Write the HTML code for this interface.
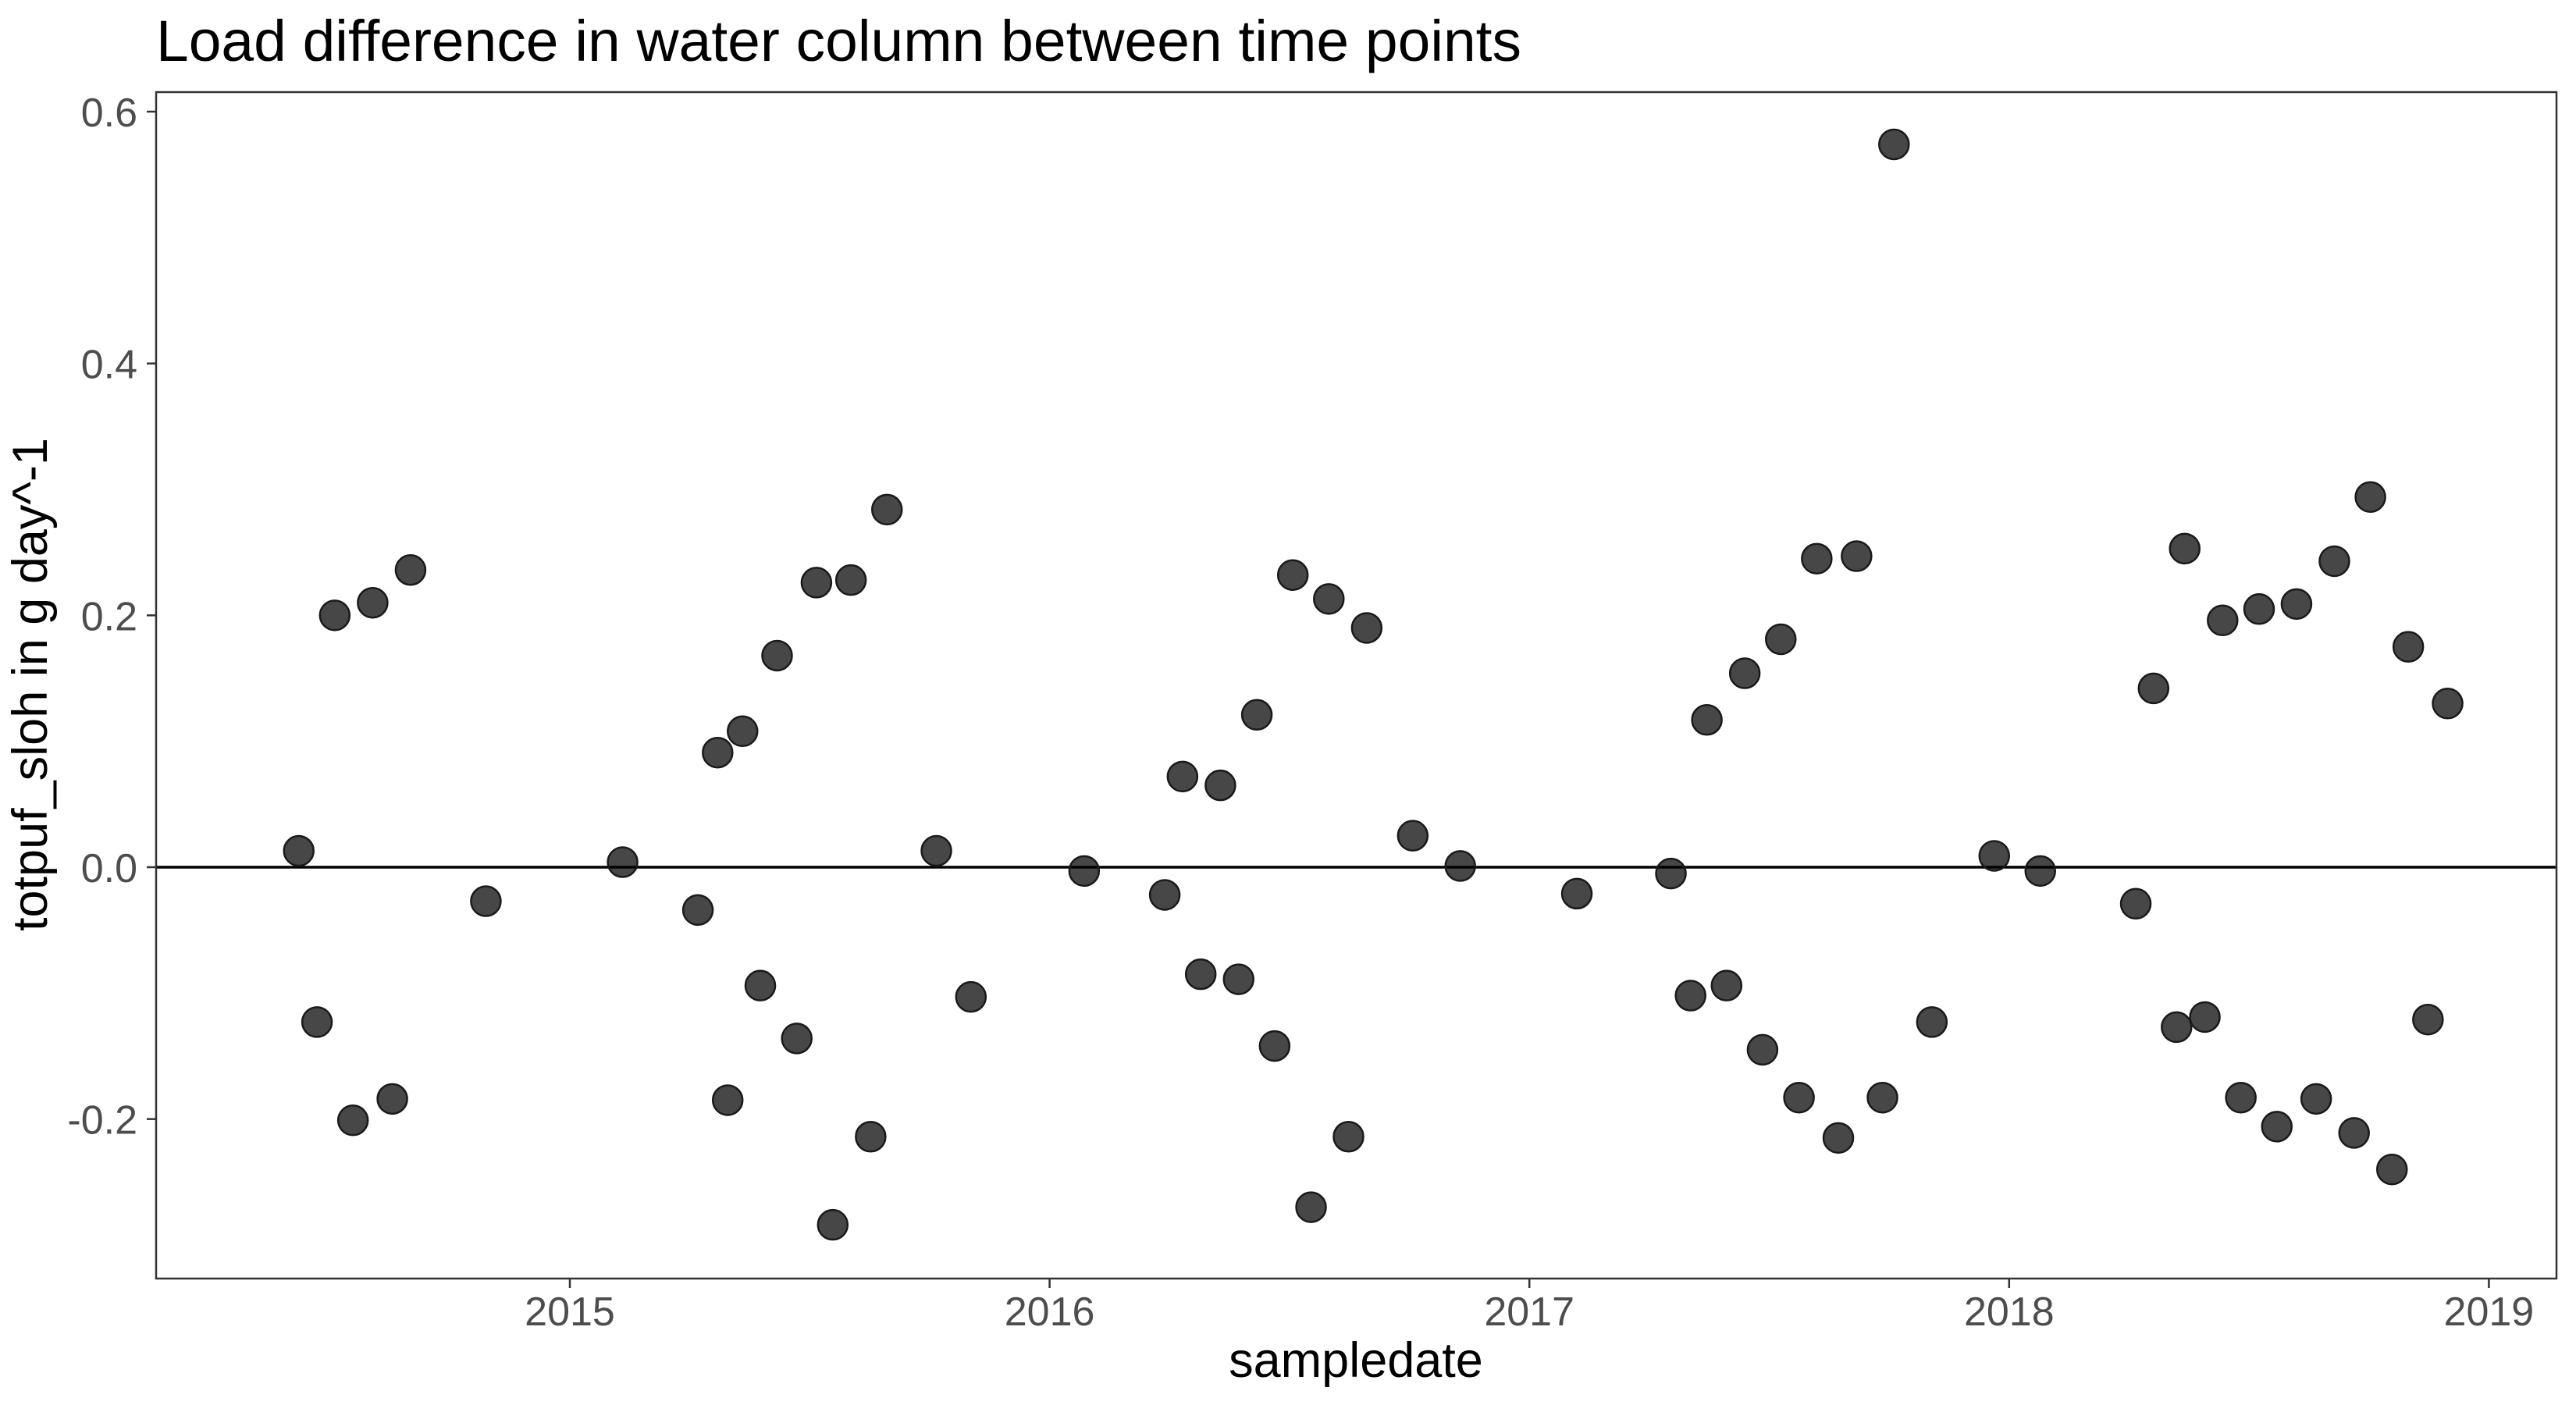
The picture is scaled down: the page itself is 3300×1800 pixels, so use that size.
<!DOCTYPE html>
<html><head><meta charset="utf-8"><style>
html,body{margin:0;padding:0;background:#fff}
svg{display:block}
text{font-family:"Liberation Sans",Arial,sans-serif}
</style></head><body>
<svg id="chart" width="3300" height="1800" viewBox="0 0 3300 1800" xmlns="http://www.w3.org/2000/svg">
<rect width="3300" height="1800" fill="#fff"/>
<text x="200" y="78" font-size="74" fill="#000" textLength="1749" lengthAdjust="spacingAndGlyphs">Load difference in water column between time points</text>
<g id="panel"></g>
<text x="1737" y="1764" font-size="63" text-anchor="middle" fill="#000">sampledate</text>
<text x="0" y="0" font-size="63" text-anchor="middle" fill="#000" transform="translate(60,877) rotate(-90)">totpuf_sloh in g day^-1</text>
</svg>
<script>
const dates = [2014.435,2014.473,2014.510,2014.548,2014.589,2014.630,2014.668,2014.825,2015.110,2015.267,2015.308,2015.329,2015.360,2015.397,2015.432,2015.473,2015.514,2015.548,2015.586,2015.627,2015.661,2015.764,2015.836,2016.072,2016.240,2016.277,2016.315,2016.356,2016.394,2016.432,2016.469,2016.507,2016.545,2016.582,2016.623,2016.661,2016.757,2016.856,2017.099,2017.295,2017.336,2017.370,2017.411,2017.449,2017.486,2017.524,2017.562,2017.599,2017.644,2017.682,2017.736,2017.760,2017.839,2017.969,2018.065,2018.264,2018.301,2018.349,2018.366,2018.408,2018.445,2018.483,2018.521,2018.558,2018.599,2018.640,2018.678,2018.719,2018.753,2018.798,2018.832,2018.873,2018.914];
const values = [0.013,-0.123,0.200,-0.201,0.210,-0.184,0.236,-0.027,0.004,-0.034,0.091,-0.185,0.108,-0.094,0.168,-0.136,0.226,-0.284,0.228,-0.214,0.284,0.013,-0.103,-0.003,-0.022,0.072,-0.085,0.065,-0.089,0.121,-0.142,0.232,-0.270,0.213,-0.214,0.190,0.025,0.001,-0.021,-0.005,-0.102,0.117,-0.094,0.154,-0.145,0.181,-0.183,0.245,-0.215,0.247,-0.183,0.574,-0.123,0.009,-0.003,-0.029,0.142,-0.127,0.253,-0.119,0.196,-0.183,0.205,-0.206,0.209,-0.184,0.243,-0.211,0.294,-0.240,0.175,-0.121,0.130];
const xTicks = [2015,2016,2017,2018,2019];
const yTicks = [-0.2,0.0,0.2,0.4,0.6];
const yTickLabels = ["-0.2","0.0","0.2","0.4","0.6"];

const L=200,R=3275,T=118,B=1638;
const xS = v => 730 + (v-2015)*614.6;
const yS = v => 1111 - v*1613.3;
const NS="http://www.w3.org/2000/svg";
const g=document.getElementById('panel');
function mk(t,a){const e=document.createElementNS(NS,t);for(const k in a)e.setAttribute(k,a[k]);g.appendChild(e);return e;}

const zl=mk('line',{x1:L,x2:R,y1:yS(0),y2:yS(0),stroke:'#000','stroke-width':3.5});



dates.forEach((d,i)=>{
  const c=mk('circle',{cx:xS(d),cy:yS(values[i]),r:19,fill:'rgba(0,0,0,0.72)',stroke:'#1a1a1a','stroke-width':2.5});
  
  
});

const fr=mk('rect',{x:L,y:T,width:R-L,height:B-T,fill:'none',stroke:'#333','stroke-width':2.5});



xTicks.forEach(t=>{
  const x=xS(t);
  const tk=mk('line',{x1:x,x2:x,y1:B,y2:B+12,stroke:'#333','stroke-width':2.5});
  
  
  const tx=mk('text',{x:x,y:1698,'font-size':52,fill:'#4d4d4d','text-anchor':'middle'});
  tx.textContent=String(t);
  
  
});
yTicks.forEach((t,i)=>{
  const y=yS(t);
  const tk=mk('line',{x1:L-12,x2:L,y1:y,y2:y,stroke:'#333','stroke-width':2.5});
  
  
  const tx=mk('text',{x:176,y:y+19,'font-size':52,fill:'#4d4d4d','text-anchor':'end'});
  tx.textContent=yTickLabels[i];
  
  
});
</script>
</body></html>
